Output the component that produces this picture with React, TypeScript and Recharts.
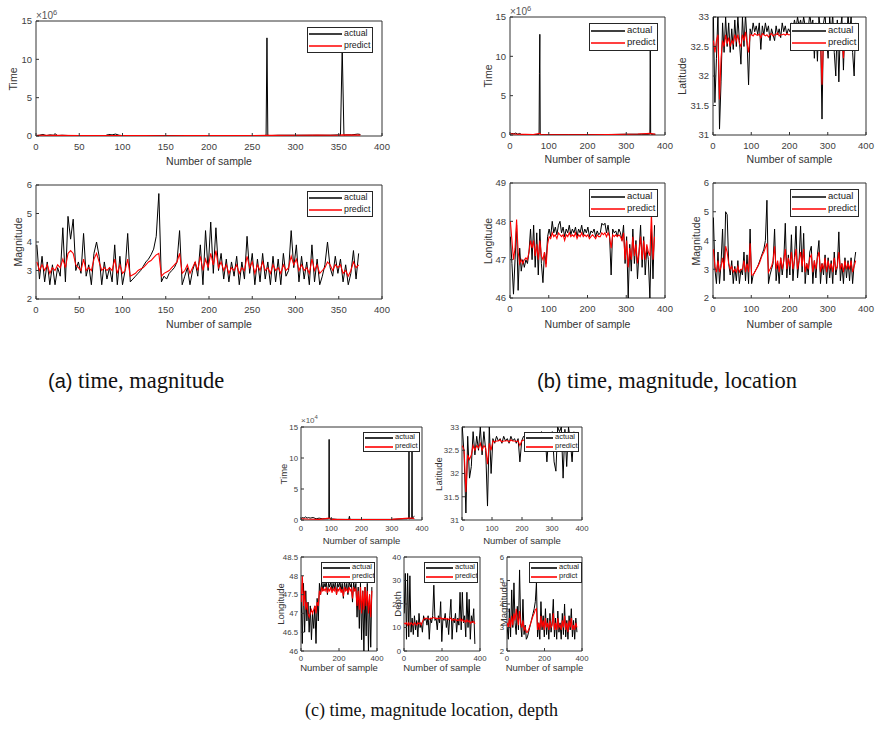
import React from "react";
import { LineChart, Line, XAxis, YAxis, ReferenceArea } from "recharts";

const FONT = "'Liberation Sans', Arial, Helvetica, sans-serif";
const SERIF = "'Liberation Serif', 'Times New Roman', serif";

// sample numbers along the x axis
const seq = (first: number, step: number, n: number) =>
  Array.from({ length: n }, (_, i) => first + i * step);
const S3 = seq(1, 3, 125);
const S4 = seq(1, 4, 94);
const S6 = seq(1, 6, 63);

// ---------- (a) time, magnitude ----------
const timeA_actualX = [1, 4, 8, 12, 16, 20, 22, 25, 30, 40, 50, 60, 70, 80, 84, 88, 92, 96, 100, 120, 150, 200, 250, 264, 266, 267, 268, 270, 280, 300, 320, 340, 350, 352, 354, 356, 358, 365, 372, 375];
const timeA_actual = [0.05, 0.1, 0.2, 0.05, 0.15, 0.1, 0.3, 0.05, 0.1, 0.05, 0.05, 0.05, 0.05, 0.05, 0.2, 0.15, 0.25, 0.1, 0.05, 0.05, 0.05, 0.05, 0.05, 0.05, 0.1, 12.8, 0.1, 0.05, 0.1, 0.1, 0.1, 0.1, 0.15, 0.1, 11.5, 0.1, 0.15, 0.15, 0.25, 0.2];
const timeA_predictX = [1, 25, 50, 75, 100, 125, 150, 175, 200, 225, 250, 267, 275, 300, 325, 350, 354, 375];
const timeA_predict = [0.1, 0.08, 0.05, 0.06, 0.05, 0.05, 0.04, 0.05, 0.05, 0.05, 0.06, 0.1, 0.08, 0.1, 0.12, 0.1, 0.15, 0.12];

const magA_actual = [
  3.9, 2.7, 3.5, 2.6, 3.3, 2.5, 3.2, 2.5, 3.1, 2.8,
  4.5, 2.6, 4.9, 4.1, 4.8, 3.0, 3.3, 2.9, 4.3, 2.8,
  3.2, 2.5, 3.6, 4.0, 3.5, 2.5, 3.3, 2.7, 3.1, 2.6,
  3.9, 2.5, 3.5, 2.5, 3.0, 4.3, 2.6, 2.7, 2.8, 2.9,
  3.0, 3.15, 3.3, 3.4, 3.55, 3.75, 4.2, 5.7, 2.6, 2.8,
  2.7, 2.9, 3.0, 3.1, 3.3, 4.4, 2.5, 2.8, 3.1, 2.5,
  3.0, 3.3, 2.8, 3.9, 2.5, 4.4, 3.0, 4.7, 2.9, 4.5,
  3.0, 3.6, 2.7, 3.4, 2.6, 3.3, 2.8, 3.5, 2.5, 3.3,
  2.7, 4.2, 2.9, 3.6, 2.5, 3.4, 2.6, 3.6, 2.7, 3.3,
  2.5, 3.5, 2.6, 3.4, 2.5, 3.6, 2.8, 3.0, 4.4, 3.1,
  3.9, 2.6, 3.5, 2.7, 3.3, 2.5, 3.9, 2.6, 3.4, 2.5,
  2.8, 3.2, 4.0, 3.1, 2.8, 3.5, 2.9, 3.4, 2.6, 3.2,
  2.5, 2.9, 3.7, 2.7, 3.6,
];
const magA_predict = [
  3.3, 3.0, 3.2, 3.0, 3.2, 2.9, 3.1, 3.0, 3.2, 3.1,
  3.4, 3.1, 3.6, 3.7, 3.6, 3.2, 3.1, 3.0, 3.4, 3.0,
  3.1, 3.0, 3.4, 3.6, 3.3, 3.0, 3.1, 3.0, 3.1, 3.0,
  3.4, 2.9, 3.2, 2.9, 3.0, 3.4, 2.8, 2.85, 2.9, 3.0,
  3.05, 3.1, 3.2, 3.3, 3.35, 3.45, 3.55, 3.6, 2.8, 2.9,
  2.95, 3.0, 3.1, 3.2, 3.3, 3.6, 2.9, 3.0, 3.2, 2.9,
  3.1, 3.3, 3.0, 3.5, 3.0, 3.4, 3.1, 3.6, 3.2, 3.7,
  3.1, 3.3, 3.0, 3.2, 2.9, 3.1, 3.0, 3.2, 2.9, 3.1,
  3.0, 3.5, 3.1, 3.3, 2.9, 3.2, 3.0, 3.3, 3.0, 3.1,
  2.9, 3.2, 3.0, 3.1, 2.9, 3.2, 3.0, 3.1, 3.5, 3.2,
  3.4, 3.0, 3.2, 3.0, 3.1, 2.9, 3.4, 3.0, 3.2, 2.9,
  3.0, 3.1, 3.3, 3.2, 3.0, 3.2, 3.1, 3.2, 2.9, 3.0,
  2.8, 3.0, 3.3, 3.1, 3.2,
];

// ---------- (b) time, magnitude, location ----------
const timeB_actualX = [1, 5, 10, 15, 20, 25, 30, 50, 70, 75, 76, 77, 78, 80, 100, 150, 200, 250, 300, 340, 358, 360, 361, 362, 363, 365, 370, 375];
const timeB_actual = [0.1, 0.2, 0.15, 0.25, 0.1, 0.2, 0.05, 0.05, 0.05, 0.1, 7.8, 12.8, 0.2, 0.05, 0.05, 0.05, 0.05, 0.05, 0.1, 0.1, 0.1, 0.1, 0.2, 11.5, 0.15, 0.1, 0.1, 0.1];
const timeB_predictX = [1, 20, 40, 60, 77, 80, 100, 150, 200, 250, 300, 330, 362, 375];
const timeB_predict = [0.15, 0.1, 0.08, 0.06, 0.2, 0.05, 0.04, 0.04, 0.04, 0.05, 0.1, 0.12, 0.2, 0.1];

const latB_actual = [
  33.0, 31.55, 32.3, 33.1, 31.1, 31.9, 32.9, 32.4, 33.0, 32.5,
  32.9, 32.4, 32.8, 32.45, 32.95, 32.5, 33.0, 32.6, 32.2, 33.0,
  32.5, 33.05, 32.6, 31.85, 32.8, 32.7, 32.9, 32.75, 32.85, 32.7,
  32.9, 32.45, 32.85, 32.7, 32.9, 32.75, 32.85, 32.6, 32.8, 32.7,
  32.6, 32.85, 32.7, 32.8, 32.65, 32.9, 32.75, 32.85, 32.7, 32.8,
  32.75, 32.9, 32.8, 32.95, 32.8, 33.0, 32.85, 32.95, 32.8, 33.0,
  32.85, 32.9, 32.8, 33.05, 32.85, 32.95, 32.3, 32.9, 32.25, 33.0,
  32.8, 31.27, 32.9, 33.05, 32.6, 32.3, 33.0, 32.7, 33.05, 32.4,
  32.0, 32.95, 31.9, 32.8, 33.0, 32.1, 32.9, 32.5, 33.05, 32.7,
  33.0, 32.4, 32.0, 32.9,
];
const latB_predict = [
  32.6, 32.4, 32.6, 32.7, 31.6, 32.3, 32.6, 32.5, 32.7, 32.55,
  32.65, 32.5, 32.6, 32.55, 32.7, 32.6, 32.7, 32.55, 32.5, 32.7,
  32.6, 32.75, 32.55, 32.4, 32.7, 32.7, 32.68, 32.72, 32.7, 32.69,
  32.71, 32.65, 32.72, 32.7, 32.68, 32.7, 32.66, 32.7, 32.72, 32.68,
  32.7, 32.7, 32.73, 32.68, 32.7, 32.7, 32.71, 32.69, 32.72, 32.7,
  32.7, 32.71, 32.7, 32.72, 32.68, 32.7, 32.71, 32.7, 32.69, 32.72,
  32.7, 32.7, 32.68, 32.72, 32.7, 32.7, 32.6, 32.7, 32.6, 32.72,
  32.7, 31.85, 32.7, 32.72, 32.65, 32.6, 32.7, 32.68, 32.72, 32.6,
  32.5, 32.7, 32.5, 32.7, 32.7, 32.3, 32.7, 32.6, 32.72, 32.68,
  32.7, 32.6, 32.5, 32.7,
];

const lonB_actual = [
  47.6, 46.9, 46.1, 47.0, 47.9, 46.2, 47.3, 46.7, 47.0, 46.8,
  47.0, 46.9, 47.2, 47.8, 47.0, 47.9, 46.8, 47.7, 46.6, 47.8,
  46.9, 46.4, 47.2, 46.9, 47.6, 47.8, 47.6, 48.0, 47.7, 47.85,
  47.65, 47.9, 48.0, 47.7, 47.85, 47.6, 47.8, 47.7, 47.9, 47.65,
  47.8, 47.7, 47.85, 47.6, 47.8, 47.7, 47.9, 47.65, 47.8, 47.7,
  47.85, 47.6, 47.75, 47.7, 47.8, 47.6, 47.75, 47.65, 47.7, 47.95,
  47.9, 47.95, 47.7, 47.9, 47.6, 46.6, 47.8, 47.7, 47.75, 47.6,
  47.8, 47.7, 47.5, 47.9, 46.9, 47.6, 46.0, 47.4, 46.7, 47.8,
  46.9, 47.5, 46.5, 47.2, 47.9, 46.8, 47.6, 46.6, 47.3, 47.0,
  46.0, 47.8, 46.5, 47.9,
];
const lonB_predict = [
  48.0, 47.5, 47.0, 47.3, 48.05, 47.2, 46.9, 47.0, 46.9, 47.0,
  47.05, 47.0, 47.2, 47.5, 47.3, 47.5, 47.1, 47.4, 47.0, 47.5,
  47.1, 47.0, 47.2, 46.8, 47.4, 47.6, 47.55, 47.7, 47.6, 47.65,
  47.55, 47.7, 47.65, 47.6, 47.65, 47.5, 47.65, 47.6, 47.7, 47.6,
  47.65, 47.6, 47.7, 47.55, 47.65, 47.6, 47.7, 47.6, 47.65, 47.6,
  47.65, 47.55, 47.6, 47.65, 47.6, 47.55, 47.65, 47.6, 47.6, 47.7,
  47.65, 47.7, 47.6, 47.7, 47.6, 47.3, 47.65, 47.6, 47.65, 47.6,
  47.65, 47.6, 47.5, 47.7, 47.0, 47.5, 46.8, 47.3, 47.0, 47.6,
  47.1, 47.4, 46.9, 47.2, 47.6, 47.0, 47.5, 47.0, 47.4, 47.2,
  47.1, 48.2, 47.0, 47.6,
];

const magB_actual = [
  4.8, 3.0, 2.5, 3.6, 2.5, 3.2, 4.4, 2.6, 5.0, 4.9,
  3.2, 2.8, 3.3, 2.5, 3.1, 2.6, 3.3, 2.5, 3.0, 2.8,
  3.6, 2.6, 3.5, 2.5, 4.4, 2.5, 2.8, 2.9, 3.0, 3.1,
  3.25, 3.4, 3.55, 3.7, 4.0, 5.4, 2.5, 2.8, 3.0, 3.2,
  4.4, 2.6, 3.2, 2.5, 3.4, 2.8, 3.3, 4.6, 2.7, 3.5,
  2.8, 4.2, 2.6, 3.4, 4.5, 2.7, 3.3, 4.5, 2.9, 4.25,
  2.5, 3.2, 2.8, 3.6, 3.8, 2.5, 3.3, 2.7, 3.5, 4.0,
  2.5, 3.2, 2.8, 3.5, 2.5, 3.4, 2.7, 3.3, 2.5, 3.6,
  2.8, 3.1, 4.3, 2.6, 3.2, 2.5, 3.4, 2.7, 3.3, 2.6,
  3.4, 2.5, 3.2, 3.6,
];
const magB_predict = [
  3.7, 3.1, 2.9, 3.3, 2.9, 3.1, 3.4, 3.0, 3.8, 3.6,
  3.2, 3.0, 3.1, 2.9, 3.0, 2.9, 3.1, 2.9, 3.0, 3.0,
  3.3, 2.9, 3.2, 2.9, 3.9, 2.8, 2.8, 2.9, 3.0, 3.1,
  3.2, 3.35, 3.5, 3.6, 3.75, 3.9, 2.9, 3.0, 3.1, 3.3,
  3.8, 3.0, 3.3, 2.9, 3.4, 3.0, 3.3, 3.7, 3.0, 3.4,
  3.1, 3.6, 3.0, 3.3, 3.7, 3.0, 3.3, 3.6, 3.1, 3.7,
  2.9, 3.2, 3.0, 3.4, 3.5, 2.9, 3.3, 3.0, 3.4, 3.6,
  2.9, 3.2, 3.0, 3.4, 2.9, 3.3, 3.0, 3.2, 2.9, 3.4,
  3.0, 3.1, 3.6, 3.0, 3.2, 2.9, 3.3, 3.0, 3.2, 3.0,
  3.3, 2.9, 3.1, 3.3,
];

// ---------- (c) time, magnitude, location, depth ----------
const timeC_actualX = [1, 5, 10, 15, 20, 25, 30, 40, 50, 60, 70, 80, 90, 92, 93, 94, 96, 120, 150, 158, 160, 162, 200, 250, 300, 340, 350, 355, 356, 357, 358, 360, 365, 366, 367, 368, 370, 375];
const timeC_actual = [0.2, 0.4, 0.3, 0.5, 0.3, 0.4, 0.3, 0.4, 0.2, 0.3, 0.2, 0.2, 0.2, 0.3, 13, 0.3, 0.2, 0.1, 0.1, 0.1, 0.6, 0.1, 0.1, 0.1, 0.1, 0.2, 0.2, 0.3, 0.2, 14, 0.2, 0.2, 0.3, 0.2, 14, 0.2, 0.4, 0.6];
const timeC_predictX = [1, 20, 40, 60, 93, 100, 150, 200, 250, 300, 357, 367, 375];
const timeC_predict = [0.2, 0.15, 0.12, 0.1, 0.3, 0.1, 0.08, 0.08, 0.08, 0.1, 0.3, 0.3, 0.2];

const latC_actual = [
  33.0, 32.4, 31.15, 32.8, 31.9, 32.15, 32.9, 32.4, 32.8, 32.5,
  33.0, 32.4, 32.9, 32.5, 31.3, 33.0, 32.0, 32.75, 32.65, 32.8,
  32.7, 32.75, 32.65, 32.8, 32.7, 32.75, 32.65, 32.8, 32.7, 32.75,
  32.65, 32.75, 32.25, 32.7, 32.8, 32.75, 32.85, 32.7, 32.8, 32.75,
  32.85, 32.7, 32.8, 32.75, 32.9, 32.7, 32.8, 32.25, 32.8, 32.7,
  32.9, 32.25, 32.05, 33.0, 32.9, 33.0, 31.9, 32.95, 32.15, 33.0,
  32.7, 32.25, 32.9,
];
const latC_predict = [
  32.6, 32.5, 31.6, 32.4, 32.3, 32.4, 32.6, 32.5, 32.6, 32.55,
  32.65, 32.5, 32.6, 32.55, 32.2, 32.65, 32.5, 32.7, 32.68, 32.7,
  32.7, 32.72, 32.68, 32.7, 32.7, 32.71, 32.68, 32.72, 32.7, 32.7,
  32.69, 32.7, 32.6, 32.7, 32.72, 32.7, 32.72, 32.69, 32.7, 32.71,
  32.7, 32.68, 32.7, 32.72, 32.7, 32.69, 32.7, 32.6, 32.7, 32.7,
  32.72, 32.6, 32.55, 32.7, 32.7, 32.72, 32.5, 32.7, 32.6, 32.7,
  32.7, 32.6, 32.7,
];

const lonC_actual = [
  47.4, 46.2, 47.8, 46.5, 47.6, 46.8, 47.3, 46.5, 47.2, 46.3,
  47.0, 46.6, 47.2, 46.2, 47.4, 46.8, 47.8, 47.5, 47.85, 47.6,
  47.8, 47.7, 47.85, 47.5, 47.8, 47.7, 47.85, 47.6, 47.8, 47.65,
  47.85, 47.5, 47.8, 47.7, 47.85, 47.6, 47.8, 47.4, 47.85, 47.6,
  47.8, 47.5, 47.85, 47.7, 47.8, 47.3, 47.85, 47.6, 47.8, 46.9,
  47.7, 46.6, 47.8, 46.3, 47.6, 46.0, 47.7, 46.4, 47.8, 46.0,
  47.5, 46.1, 47.7,
];
const lonC_predict = [
  47.3, 48.0, 47.2, 47.6, 47.1, 47.3, 47.0, 46.9, 47.0, 47.1,
  47.0, 47.1, 47.2, 47.0, 47.3, 47.2, 47.6, 47.5, 47.7, 47.6,
  47.65, 47.6, 47.7, 47.55, 47.65, 47.6, 47.7, 47.55, 47.65, 47.6,
  47.7, 47.5, 47.65, 47.6, 47.7, 47.55, 47.65, 47.45, 47.7, 47.6,
  47.65, 47.55, 47.7, 47.6, 47.65, 47.4, 47.7, 47.6, 47.65, 47.2,
  47.6, 47.1, 47.7, 47.0, 47.6, 47.1, 47.7, 47.2, 47.6, 47.0,
  47.5, 46.9, 47.6,
];

const depthC_actual = [
  16, 33, 5, 33, 6, 32, 8, 14, 7, 15,
  9, 13, 6, 16, 10, 12, 8, 15, 13, 14,
  11, 15, 5, 14, 12, 15, 28, 13, 14, 9,
  15, 12, 21, 4, 14, 13, 16, 10, 14, 7,
  15, 22, 5, 14, 12, 16, 8, 14, 11, 25,
  9, 25, 12, 15, 6, 25, 10, 22, 5, 15,
  12, 18, 3,
];
const depthC_predict = [
  12, 11.5, 12, 11, 12, 11, 12, 11.5, 11, 12,
  11.5, 11, 12, 11.5, 12, 11, 12.5, 13.5, 14, 13.8,
  14, 13.7, 13.5, 14, 13.8, 14, 14.3, 13.9, 14, 13.6,
  14, 13.8, 14.2, 13.5, 13.9, 13.7, 14, 13.5, 13.8, 13.3,
  13.7, 14, 13, 13.5, 13.2, 13.6, 12.8, 13.3, 12.9, 13.8,
  12.7, 13.5, 12.6, 13, 12.3, 13.2, 12.4, 12.9, 11.8, 12.5,
  12.2, 12.6, 11.5,
];

const magC_actual = [
  3.0, 2.5, 3.8, 2.6, 4.6, 3.0, 4.9, 3.2, 2.7, 3.9,
  2.9, 5.45, 3.1, 2.6, 4.2, 2.7, 3.1, 2.5, 2.6, 2.8,
  3.0, 3.2, 3.4, 3.6, 3.8, 4.1, 4.9, 2.6, 3.2, 2.5,
  4.1, 2.9, 3.5, 2.6, 3.8, 2.7, 3.4, 2.5, 3.6, 2.8,
  3.3, 4.2, 2.6, 3.4, 2.5, 3.7, 2.8, 3.2, 2.5, 3.6,
  2.7, 4.0, 2.6, 3.3, 2.5, 3.5, 2.9, 3.8, 2.6, 3.3,
  2.5, 3.4, 2.8,
];
const magC_predict = [
  3.2, 3.0, 3.4, 3.0, 3.5, 3.1, 3.6, 3.3, 3.8, 3.4,
  3.1, 3.7, 3.2, 3.0, 3.3, 2.9, 3.0, 2.8, 2.8, 2.9,
  3.05, 3.2, 3.35, 3.5, 3.6, 3.75, 3.8, 2.9, 3.2, 2.9,
  3.5, 3.0, 3.3, 2.9, 3.4, 3.0, 3.2, 2.9, 3.3, 3.0,
  3.1, 3.6, 2.9, 3.2, 2.9, 3.4, 3.0, 3.1, 2.9, 3.3,
  3.0, 3.5, 2.9, 3.2, 2.8, 3.3, 3.0, 3.4, 2.9, 3.1,
  2.9, 3.2, 3.0,
];

// tick values
const ticksX50 = [0, 50, 100, 150, 200, 250, 300, 350, 400];
const ticksX100 = [0, 100, 200, 300, 400];
const ticksX200 = [0, 200, 400];
const ticksTime = [0, 5, 10, 15];
const ticksMag = [2, 3, 4, 5, 6];
const ticksLat = [31, 31.5, 32, 32.5, 33];
const ticksLonB = [46, 47, 48, 49];
const ticksLonC = [46, 46.5, 47, 47.5, 48, 48.5];
const ticksDepth = [0, 10, 20, 30, 40];

type LegendBox = { left: number; top: number; w: number; h: number; font: number; line: number; predictText?: string };
type PanelDef = {
  box: [number, number, number, number];
  ax: number[]; ay: number[]; px: number[]; py: number[];
  yDomain: [number, number]; yTicks: number[]; xTicks: number[];
  yLabel: string; yLabelX: number; xLabelY: number;
  tickFont: number; labelFont: number; yTickMargin: number; xTickMargin: number;
  legend: LegendBox;
  exponent?: { base: string; sup: string; left: number; top: number; font: number };
};

const big = { tickFont: 9.5, labelFont: 10.5, yTickMargin: 7, xTickMargin: 10 };
const small = { tickFont: 7.8, labelFont: 9.5, yTickMargin: 6, xTickMargin: 8 };

const panels: PanelDef[] = [
  {
    box: [36, 21, 346, 115], ax: timeA_actualX, ay: timeA_actual, px: timeA_predictX, py: timeA_predict,
    yDomain: [0, 15], yTicks: ticksTime, xTicks: ticksX50, yLabel: "Time", yLabelX: 13, xLabelY: 161, ...big,
    legend: { left: 307, top: 27, w: 66, h: 26, font: 8.8, line: 33 },
    exponent: { base: "×10", sup: "6", left: 36, top: 8, font: 10 },
  },
  {
    box: [36, 185, 346, 114], ax: S3, ay: magA_actual, px: S3, py: magA_predict,
    yDomain: [2, 6], yTicks: ticksMag, xTicks: ticksX50, yLabel: "Magnitude", yLabelX: 18, xLabelY: 324, ...big,
    legend: { left: 307, top: 191, w: 66, h: 26, font: 8.8, line: 33 },
  },
  {
    box: [510, 17, 155, 118], ax: timeB_actualX, ay: timeB_actual, px: timeB_predictX, py: timeB_predict,
    yDomain: [0, 15], yTicks: ticksTime, xTicks: ticksX100, yLabel: "Time", yLabelX: 488, xLabelY: 159, ...big,
    legend: { left: 589, top: 23, w: 69, h: 28, font: 9.5, line: 34 },
    exponent: { base: "×10", sup: "6", left: 510, top: 4, font: 10 },
  },
  {
    box: [713, 17, 153, 118], ax: S4, ay: latB_actual, px: S4, py: latB_predict,
    yDomain: [31, 33], yTicks: ticksLat, xTicks: ticksX100, yLabel: "Latitude", yLabelX: 682, xLabelY: 159, ...big,
    legend: { left: 790, top: 23, w: 69, h: 28, font: 9.5, line: 34 },
  },
  {
    box: [510, 183, 155, 115], ax: S4, ay: lonB_actual, px: S4, py: lonB_predict,
    yDomain: [46, 49], yTicks: ticksLonB, xTicks: ticksX100, yLabel: "Longitude", yLabelX: 488, xLabelY: 324, ...big,
    legend: { left: 589, top: 189, w: 69, h: 28, font: 9.5, line: 34 },
  },
  {
    box: [713, 183, 153, 115], ax: S4, ay: magB_actual, px: S4, py: magB_predict,
    yDomain: [2, 6], yTicks: ticksMag, xTicks: ticksX100, yLabel: "Magnitude", yLabelX: 696, xLabelY: 324, ...big,
    legend: { left: 790, top: 189, w: 69, h: 28, font: 9.5, line: 34 },
  },
  {
    box: [301, 427, 121, 93], ax: timeC_actualX, ay: timeC_actual, px: timeC_predictX, py: timeC_predict,
    yDomain: [0, 15], yTicks: ticksTime, xTicks: ticksX100, yLabel: "Time", yLabelX: 283, xLabelY: 540, ...small,
    legend: { left: 363, top: 432, w: 57, h: 20, font: 7.5, line: 28 },
    exponent: { base: "×10", sup: "4", left: 301, top: 414, font: 8 },
  },
  {
    box: [462, 427, 120, 93], ax: S6, ay: latC_actual, px: S6, py: latC_predict,
    yDomain: [31, 33], yTicks: ticksLat, xTicks: ticksX100, yLabel: "Latitude", yLabelX: 438, xLabelY: 540, ...small,
    legend: { left: 524, top: 432, w: 55, h: 20, font: 7.5, line: 27 },
  },
  {
    box: [301, 557, 76, 94], ax: S6, ay: lonC_actual, px: S6, py: lonC_predict,
    yDomain: [46, 48.5], yTicks: ticksLonC, xTicks: ticksX200, yLabel: "Longitude", yLabelX: 280, xLabelY: 667, ...small, xTickMargin: 7,
    legend: { left: 321, top: 562, w: 54, h: 21, font: 7.5, line: 27 },
  },
  {
    box: [404, 557, 76, 94], ax: S6, ay: depthC_actual, px: S6, py: depthC_predict,
    yDomain: [0, 40], yTicks: ticksDepth, xTicks: ticksX200, yLabel: "Depth", yLabelX: 397, xLabelY: 667, ...small, xTickMargin: 7,
    legend: { left: 424, top: 562, w: 54, h: 21, font: 7.5, line: 27 },
  },
  {
    box: [507, 557, 75, 94], ax: S6, ay: magC_actual, px: S6, py: magC_predict,
    yDomain: [2, 6], yTicks: ticksMag, xTicks: ticksX200, yLabel: "Magnitude", yLabelX: 503, xLabelY: 667, ...small, xTickMargin: 7,
    legend: { left: 529, top: 562, w: 53, h: 21, font: 7.5, line: 26, predictText: "prdict" },
  },
];

function Legend({ lg }: { lg: LegendBox }) {
  const rows = [
    { label: "actual", color: "#000", y: Math.round(lg.h * 0.28) },
    { label: lg.predictText ?? "predict", color: "#f00", y: Math.round(lg.h * 0.73) },
  ];
  return (
    <div style={{ position: "absolute", zIndex: 5, left: lg.left, top: lg.top, width: lg.w, height: lg.h, boxSizing: "border-box", border: "1px solid #262626", background: "#fff" }}>
      <svg width={lg.w - 2} height={lg.h - 2} style={{ position: "absolute", left: 0, top: 0 }}>
        {rows.map((r) => (
          <line key={r.label} x1={1} x2={1 + lg.line} y1={r.y - 1} y2={r.y - 1} stroke={r.color} strokeWidth={1.6} />
        ))}
      </svg>
      {rows.map((r) => (
        <div key={r.label} style={{ position: "absolute", left: lg.line + 3, top: r.y - 1 - lg.font * 0.62, fontFamily: FONT, fontSize: lg.font, lineHeight: 1.1, color: "#1a1a1a", whiteSpace: "nowrap" }}>{r.label}</div>
      ))}
    </div>
  );
}

function Panel({ d }: { d: PanelDef }) {
  const [left, top, w, h] = d.box;
  const padL = 44, padR = 16, padT = 6, padB = 24;
  const actual = d.ax.map((x, i) => ({ x, y: d.ay[i] }));
  const predict = d.px.map((x, i) => ({ x, y: d.py[i] }));
  const tick = { fontSize: d.tickFont, fill: "#404040", fontFamily: FONT };
  return (
    <>
      <div style={{ position: "absolute", zIndex: 1, left: left - padL, top: top - padT }}>
        <LineChart width={w + padL + padR} height={h + padT + padB} margin={{ top: padT, right: padR, bottom: 0, left: 0 }}>
          <XAxis type="number" dataKey="x" domain={[0, 400]} ticks={d.xTicks} interval={0} allowDataOverflow axisLine={false}
            height={padB} tickSize={-3} tickMargin={d.xTickMargin} tick={tick} tickLine={{ stroke: "#333" }} />
          <YAxis type="number" dataKey="y" domain={d.yDomain} ticks={d.yTicks} interval={0} allowDataOverflow axisLine={false}
            width={padL} tickSize={-3} tickMargin={d.yTickMargin} tick={tick} tickLine={{ stroke: "#333" }} />
          <Line data={actual} dataKey="y" stroke="#000" strokeWidth={1} dot={false} isAnimationActive={false} />
          <Line data={predict} dataKey="y" stroke="#f00" strokeWidth={1.1} dot={false} isAnimationActive={false} />
          <ReferenceArea x1={0} x2={400} y1={d.yDomain[0]} y2={d.yDomain[1]} fill="none" stroke="#333" strokeWidth={1} ifOverflow="visible" />
        </LineChart>
      </div>
      <Legend lg={d.legend} />
      <div style={{ position: "absolute", zIndex: 3, left: d.yLabelX, top: top + h / 2, transform: "translate(-50%, -50%) rotate(-90deg)", fontFamily: FONT, fontSize: d.labelFont, color: "#333", whiteSpace: "nowrap" }}>
        {d.yLabel}
      </div>
      <div style={{ position: "absolute", zIndex: 3, left: left + w / 2, top: d.xLabelY, transform: "translate(-50%, -50%)", fontFamily: FONT, fontSize: d.labelFont, color: "#333", whiteSpace: "nowrap" }}>
        Number of sample
      </div>
      {d.exponent && (
        <div style={{ position: "absolute", zIndex: 3, left: d.exponent.left, top: d.exponent.top, fontFamily: FONT, fontSize: d.exponent.font, color: "#555", whiteSpace: "nowrap" }}>
          {d.exponent.base}
          <sup style={{ fontSize: d.exponent.font * 0.75 }}>{d.exponent.sup}</sup>
        </div>
      )}
    </>
  );
}

export default function App() {
  const caption = { position: "absolute" as const, fontFamily: SERIF, color: "#111", whiteSpace: "nowrap" as const };
  return (
    <div style={{ position: "absolute", left: 0, top: 0, width: 875, height: 733, background: "#fff", overflow: "hidden" }}>
      {panels.map((d, i) => (
        <Panel key={i} d={d} />
      ))}
      <div style={{ ...caption, left: 48, top: 368, fontSize: 22.5 }}>
        <span style={{ fontFamily: FONT, fontSize: 20 }}>(a)</span> time, magnitude
      </div>
      <div style={{ ...caption, left: 537, top: 368, fontSize: 22.5 }}>
        <span style={{ fontFamily: FONT, fontSize: 20 }}>(b)</span> time, magnitude, location
      </div>
      <div style={{ ...caption, left: 305, top: 700, fontSize: 18 }}>(c) time, magnitude location, depth</div>
    </div>
  );
}
